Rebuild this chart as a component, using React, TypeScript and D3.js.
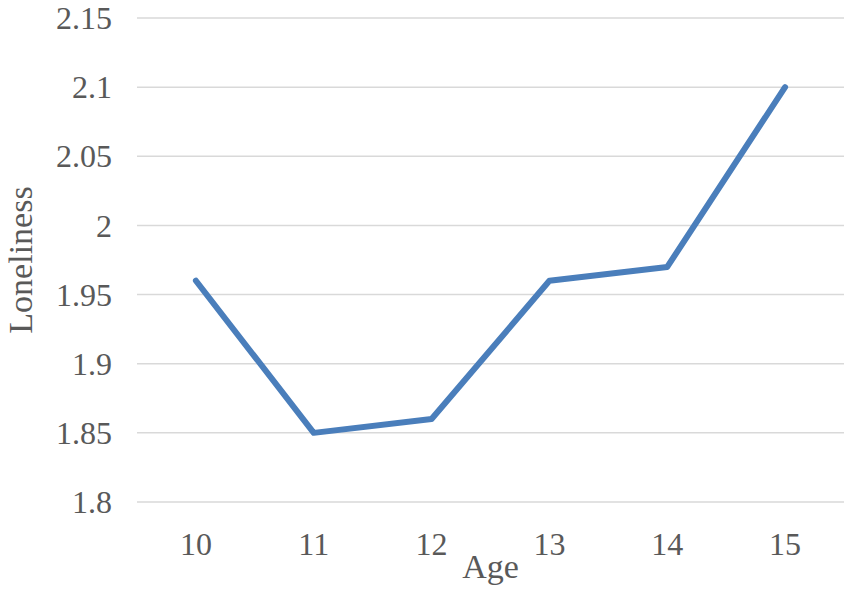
import React, { useRef, useEffect } from 'react'
import * as d3 from 'd3'

// values
const ages = ['10', '11', '12', '13', '14', '15']
const loneliness = [1.96, 1.85, 1.86, 1.96, 1.97, 2.1]
const yTicks = [1.8, 1.85, 1.9, 1.95, 2, 2.05, 2.1, 2.15]

const width = 851
const height = 593

export default function App() {
  const ref = useRef<SVGSVGElement>(null)

  useEffect(() => {
    if (!ref.current) return
    const svg = d3.select(ref.current)
    svg.selectAll('*').remove()

    const margin = { top: 18, right: 7, bottom: 91, left: 137 }
    const font = '"Liberation Serif", "Times New Roman", serif'

    const x = d3
      .scaleBand()
      .domain(ages)
      .range([margin.left, width - margin.right])
    const y = d3
      .scaleLinear()
      .domain([1.8, 2.15])
      .range([height - margin.bottom, margin.top])

    // gridlines
    svg
      .append('g')
      .selectAll('line')
      .data(yTicks)
      .join('line')
      .attr('x1', margin.left)
      .attr('x2', width - margin.right)
      .attr('y1', d => y(d))
      .attr('y2', d => y(d))
      .attr('stroke', '#d9d9d9')
      .attr('stroke-width', 1.5)

    // y tick labels
    svg
      .append('g')
      .selectAll('text')
      .data(yTicks)
      .join('text')
      .attr('x', 112)
      .attr('y', d => y(d))
      .attr('dy', '0.35em')
      .attr('text-anchor', 'end')
      .attr('font-family', font)
      .attr('font-size', 32)
      .attr('fill', '#595959')
      .text(d => String(d))

    // x tick labels
    svg
      .append('g')
      .selectAll('text')
      .data(ages)
      .join('text')
      .attr('x', d => (x(d) as number) + x.bandwidth() / 2)
      .attr('y', 555)
      .attr('text-anchor', 'middle')
      .attr('font-family', font)
      .attr('font-size', 32)
      .attr('fill', '#595959')
      .text(d => d)

    // axis titles
    svg
      .append('text')
      .attr('x', (margin.left + width - margin.right) / 2)
      .attr('y', 578)
      .attr('text-anchor', 'middle')
      .attr('font-family', font)
      .attr('font-size', 34)
      .attr('fill', '#595959')
      .text('Age')

    svg
      .append('text')
      .attr('transform', `translate(32,${y(1.975)}) rotate(-90)`)
      .attr('text-anchor', 'middle')
      .attr('font-family', font)
      .attr('font-size', 34)
      .attr('fill', '#595959')
      .text('Loneliness')

    const line = d3
      .line<number>()
      .x((_, i) => (x(ages[i]) as number) + x.bandwidth() / 2)
      .y(d => y(d))

    svg
      .append('path')
      .datum(loneliness)
      .attr('d', line)
      .attr('fill', 'none')
      .attr('stroke', '#4a7ebb')
      .attr('stroke-width', 6)
      .attr('stroke-linejoin', 'round')
      .attr('stroke-linecap', 'round')
  }, [])

  return (
    <svg
      ref={ref}
      width={width}
      height={height}
      style={{ position: 'absolute', left: 0, top: 0, background: '#fff' }}
    />
  )
}
